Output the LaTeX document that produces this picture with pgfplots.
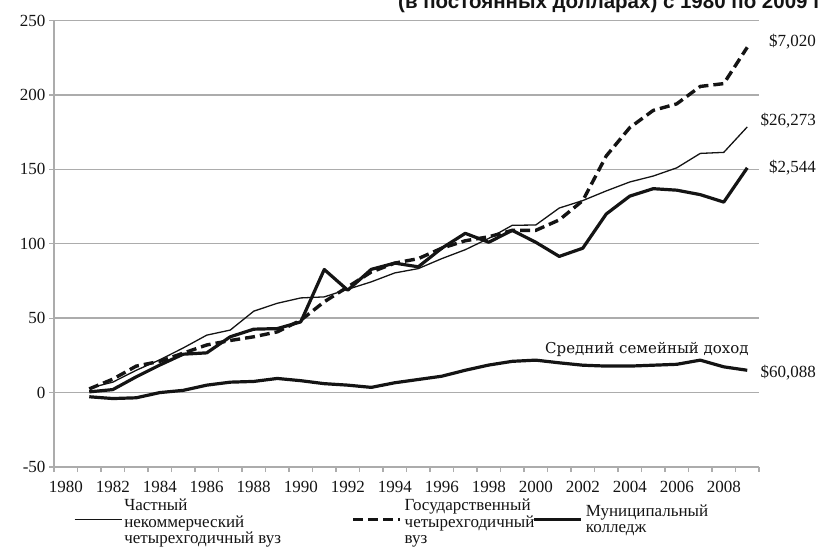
\documentclass[border=0pt]{standalone}
\usepackage{fontspec}
\setmainfont{Liberation Serif}
\newfontfamily\sansfont{Liberation Sans}
\newfontfamily\labfont{DejaVu Serif}
\usepackage{pgfplots}
\usepackage{pgfplotstable}
\pgfplotsset{compat=1.18}
\definecolor{gridgray}{RGB}{172,172,172}
\definecolor{ink}{RGB}{20,20,20}

\pgfplotstableread{
year private public community income
1981 3 2.5 0.5 -2.8
1982 7 9 2 -4
1983 15 17.8 10.6 -3.5
1984 22 21 18.5 0
1985 30 26.5 25.8 1.5
1986 38.6 32 26.7 5
1987 42 35 37.5 7
1988 54.7 37.5 42.6 7.5
1989 60 40.8 43 9.5
1990 63.6 48.6 47.5 8
1991 64.3 61 82.7 6
1992 69.4 71 68.8 5
1993 74.4 81 82.8 3.5
1994 80.4 87 87 6.6
1995 83.3 90 84.5 8.8
1996 90 97 97 11
1997 96 102 107 15
1998 103.6 104.7 101 18.5
1999 112.4 109 109 21
2000 112.6 109 101 21.8
2001 124 116 91.5 20
2002 129 129 97 18.4
2003 135.5 159 120 17.8
2004 141.5 178 132 17.8
2005 145.5 189.6 137 18.4
2006 151 194 136 19
2007 160.7 205.7 133 21.8
2008 161.4 207.6 128 17.3
2009 178.5 232 151 15
}\datatable

\begin{document}
\begin{tikzpicture}
\useasboundingbox (0,0) rectangle (818bp,-551bp);
\clip (0,0) rectangle (818bp,-551bp);
\node[anchor=base west, font=\sansfont\bfseries\fontsize{20.5bp}{20.5bp}\selectfont, text=ink, inner sep=0pt] at (398bp,-8bp) {(в постоянных долларах) с 1980 по 2009 г.};
\begin{axis}[
  at={(54bp,-467bp)}, anchor=south west,
  scale only axis, width=705bp, height=446.5bp,
  xmin=1979.5, xmax=2009.5, ymin=-50, ymax=250,
  axis x line*=bottom, axis y line*=left,
  axis line style={gridgray, line width=1.4bp},
  xtick={1979.5,1980.5,...,2009.5},
  xticklabels={1980,{},1982,{},1984,{},1986,{},1988,{},1990,{},1992,{},1994,{},1996,{},1998,{},2000,{},2002,{},2004,{},2006,{},2008,{},{}},
  ytick={-50,0,...,250},
  yticklabels={-50,0,50,100,150,200,250},
  tick align=outside,
  major tick length=5bp,
  tick style={gridgray, line width=1.2bp},
  ymajorgrids, grid style={gridgray, line width=1.4bp},
  ticklabel style={font=\fontsize{17bp}{17bp}\selectfont, text=ink},
  xticklabel style={xshift=11.75bp, yshift=-6bp},
  legend style={at={(axis description cs:0.0284,-0.0717)}, anchor=north west, draw=none, fill=none, inner sep=0pt, outer sep=0pt, column sep=0pt, font=\fontsize{17bp}{16.5bp}\selectfont, nodes={inner sep=0pt, text=ink}},
  legend columns=3,
  legend cell align=left,
  legend image code/.code={\draw[#1] (0bp,-5bp) -- (47bp,-5bp);},
]
\addplot[ink, line width=1.3bp, line join=round] table[x=year, y=private] {\datatable};
\addlegendentry{\begin{tabular}{@{\hspace{2bp}}p{227bp}@{}}Частный\\некоммерческий\\четырехгодичный вуз\end{tabular}}
\addplot[ink, line width=3.4bp, dash pattern=on 10bp off 5bp, line join=round] table[x=year, y=public] {\datatable};
\addlegendentry{\begin{tabular}{@{\hspace{3bp}}p{128bp}@{}}Государственный\\четырехгодичный\\вуз\end{tabular}}
\addplot[ink, line width=3.2bp, line join=round] table[x=year, y=community] {\datatable};
\addlegendentry{\raisebox{-3bp}{\begin{tabular}{@{\hspace{3bp}}p{150bp}@{}}Муниципальный\\колледж\end{tabular}}}
\addplot[ink, line width=3.2bp, line join=round, forget plot] table[x=year, y=income] {\datatable};
\end{axis}
\begin{scope}[every node/.style={inner sep=0pt, text=ink, font=\fontsize{17bp}{17bp}\selectfont}]
\node[anchor=east] at (816bp,-42bp) {\$7,020};
\node[anchor=east] at (816bp,-121bp) {\$26,273};
\node[anchor=east] at (816bp,-168bp) {\$2,544};
\node[anchor=east] at (816bp,-373bp) {\$60,088};
\node[anchor=west, font=\labfont\fontsize{15bp}{15bp}\selectfont] at (545bp,-349bp) {Средний семейный доход};
\end{scope}
\end{tikzpicture}
\end{document}
